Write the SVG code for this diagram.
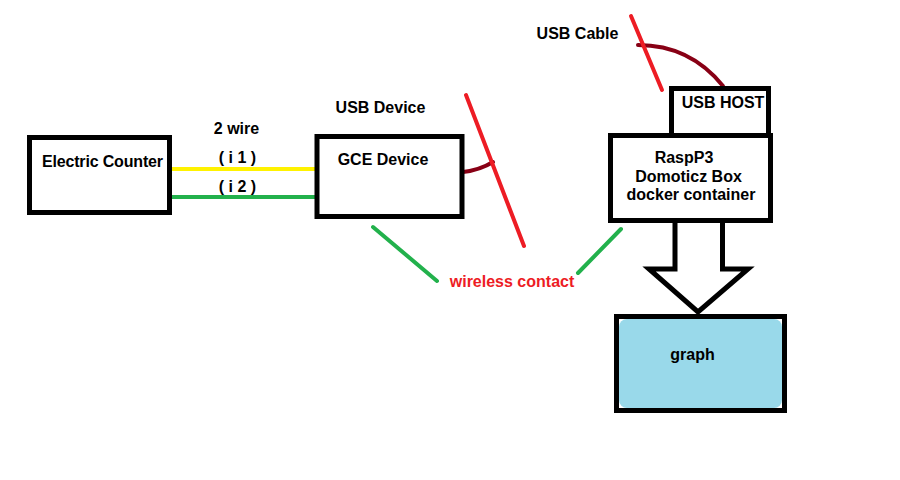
<svg xmlns="http://www.w3.org/2000/svg" width="900" height="480" viewBox="0 0 900 480">
<style>
.box{fill:#ffffff;stroke:#000000;stroke-width:5}
.t{font-family:"Liberation Sans",Arial,sans-serif;font-weight:bold;font-size:16px;fill:#000000}
.red{stroke:#ED1C24;stroke-width:4;stroke-linecap:round;fill:none}
.dred{stroke:#880015;stroke-width:4;stroke-linecap:round;fill:none}
.grn{stroke:#22B14C;stroke-width:4;stroke-linecap:round;fill:none}
</style>
<rect width="900" height="480" fill="#ffffff"/>
<g id="connectors">
<line x1="170" y1="169" x2="319" y2="169" stroke="#FFF200" stroke-width="4" stroke-linecap="round"/>
<line x1="169" y1="197" x2="318" y2="197" class="grn"/>
<path d="M463,172 Q480,170 493,162" class="dred"/>
<line x1="466" y1="95" x2="524" y2="246" class="red"/>
<path d="M638,45 Q690,45 723,86" class="dred"/>
<line x1="631" y1="16" x2="662" y2="90" class="red"/>
<line x1="373" y1="227" x2="437" y2="281" class="grn"/>
<line x1="578" y1="273" x2="621" y2="229" class="grn"/>
<polygon points="675,220 675,269 649,269 698,312 748,269 722.5,269 722.5,220" fill="#ffffff" stroke="#000000" stroke-width="5" stroke-linejoin="miter"/>
</g>
<g id="electric-counter">
<rect x="29.5" y="137.5" width="140" height="75" class="box"/>
<text x="42" y="167" class="t" textLength="121">Electric Counter</text>
</g>
<g id="wire-labels">
<text x="236.5" y="134" class="t" text-anchor="middle">2 wire</text>
<text x="237.5" y="163" class="t" text-anchor="middle">( i 1 )</text>
<text x="237.5" y="192" class="t" text-anchor="middle">( i 2 )</text>
</g>
<g id="gce-device">
<rect x="317" y="136.5" width="145" height="80" class="box"/>
<text x="383" y="165" class="t" text-anchor="middle">GCE Device</text>
<text x="380.5" y="113" class="t" text-anchor="middle">USB Device</text>
</g>
<g id="usb-cable-label">
<text x="577.5" y="39" class="t" text-anchor="middle">USB Cable</text>
</g>
<g id="usb-host">
<rect x="671.5" y="88.5" width="97" height="47" class="box"/>
<text x="723" y="108" class="t" text-anchor="middle">USB HOST</text>
</g>
<g id="raspp3">
<rect x="610.5" y="135.5" width="160" height="85" class="box"/>
<text x="684" y="163" class="t" text-anchor="middle">RaspP3</text>
<text x="688.5" y="182" class="t" text-anchor="middle">Domoticz Box</text>
<text x="691" y="200" class="t" text-anchor="middle">docker container</text>
</g>
<g id="wireless-label">
<text x="512" y="287" class="t" text-anchor="middle" style="fill:#ED1C24">wireless contact</text>
</g>
<g id="graph">
<rect x="616.5" y="316.5" width="168" height="94" fill="#ffffff" stroke="#000000" stroke-width="5"/>
<rect x="619" y="319" width="163" height="89" rx="8" fill="#99D9EA"/>
<text x="692.5" y="360" class="t" text-anchor="middle">graph</text>
</g>
</svg>
